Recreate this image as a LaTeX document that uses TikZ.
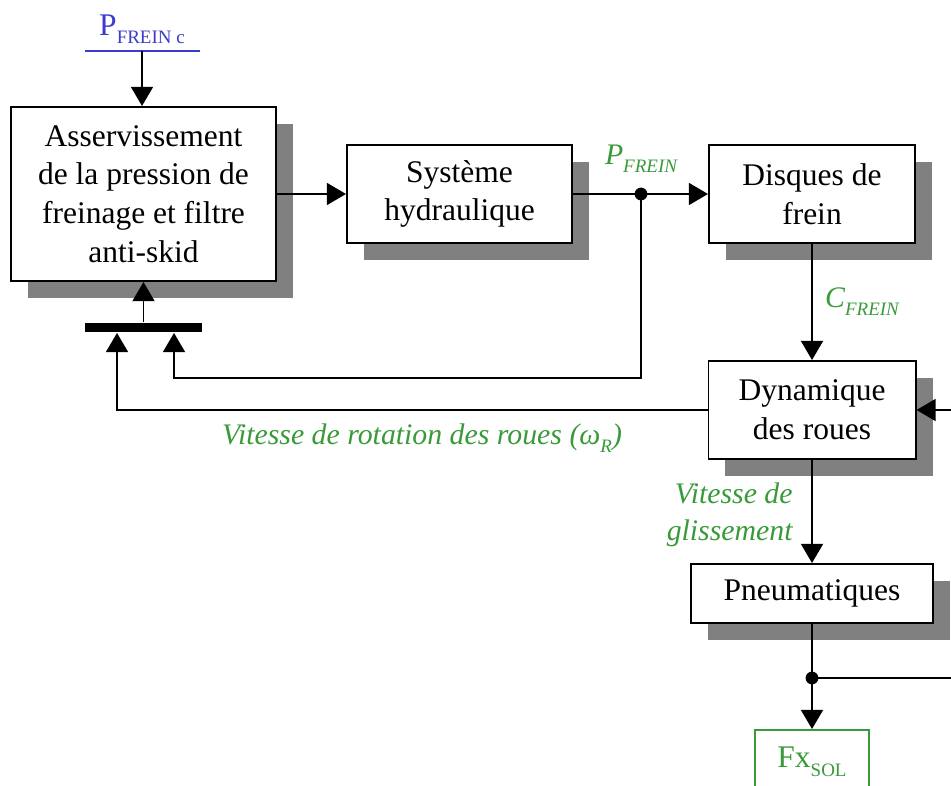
\documentclass[tikz,border=0pt]{standalone}
\usepackage{fontspec}
\setmainfont{Liberation Serif}
\usetikzlibrary{arrows.meta,shadows}
\definecolor{signal-green}{RGB}{58,154,58}
\definecolor{signal-blue}{RGB}{60,60,204}
\newcommand{\blockfont}{\fontsize{22.4}{27.6}\selectfont}
\newcommand{\labelfont}{\fontsize{21.2}{26}\selectfont}
\newcommand{\indice}[1]{\raisebox{-0.6ex}{\fontsize{13.5}{13.5}\selectfont #1}}
\tikzset{
    block-box/.style = {draw, fill=white, rectangle, inner sep=0pt, align=center, font=\blockfont,
        drop shadow={shadow xshift=0.425cm, shadow yshift=-0.425cm, fill=black!50, opacity=1}},
    output-box/.style = {draw=signal-green, fill=white, rectangle, inner sep=0pt, text=signal-green, font=\blockfont},
    signal-label/.style = {text=signal-green, font={\labelfont\itshape}, inner sep=1pt},
    arr/.style = {-{Triangle[length=0.48cm,width=0.55cm]}},
}

\begin{document}
\begin{tikzpicture}[x=0.025cm, y=-0.025cm, line width=1.4pt]
\useasboundingbox (0,0) rectangle (951,786);
\clip (0,0) rectangle (951,786);
% blocks
\node[block-box, minimum width=6.625cm, minimum height=4.35cm] (asserv) at (143.5,194) {Asservissement\\de la pression de\\freinage et filtre\\anti-skid};
\node[block-box, minimum width=5.625cm, minimum height=2.45cm] (hydro) at (459.5,194) {Système\\hydraulique};
\node[block-box, minimum width=5.15cm, minimum height=2.45cm] (disques) at (812,194) {Disques de\\frein};
\node[block-box, minimum width=5.175cm, minimum height=2.45cm] (dyn) at (812,410) {Dynamique\\des roues};
\node[block-box, minimum width=6.025cm, minimum height=1.475cm] (pneu) at (812,593.5) {Pneumatiques};
\node[output-box, minimum width=2.85cm, minimum height=1.6cm] (fxsol) at (812,762) {Fx\indice{SOL}};
\node[fill=black, minimum width=2.925cm, minimum height=0.225cm, inner sep=0pt] (bar) at (143.5,327.5) {};
% consigne
\node[text=signal-blue, font=\blockfont, minimum width=2.825cm, inner ysep=0.15cm, anchor=south] (pcons) at (142,51) {P\indice{FREIN c}};
\draw[signal-blue, line width=2pt] (pcons.south west) -- (pcons.south east);
\draw[arr] (pcons.south) -- (pcons.south |- asserv.north);
% labels
\node[signal-label] (pfrein-label) at (641,159) {P\indice{FREIN}};
\node[signal-label] (cfrein-label) at (862,302) {C\indice{FREIN}};
\node[signal-label] (omega-label) at (422,438) {Vitesse de rotation des roues (ω\indice{R})};
\node[signal-label, align=right, anchor=east] (gliss-label) at (795,515) {Vitesse de\\glissement};
% connectors
\coordinate (p-node) at (641,194);
\coordinate (in-right) at (174,378);
\coordinate (in-left) at (117,410);
\coordinate (w-ext) at (951,410);
\coordinate (f-node) at (812,678);
\coordinate (f-ext) at (951,678);
\draw[arr] (asserv.east) -- (hydro.west);
\draw[arr] (hydro.east) -- (disques.west);
\fill (p-node) circle (0.16cm);
\draw[arr] (p-node) |- (in-right) -- (in-right |- bar.south);
\draw[arr] (dyn.west) -| (in-left |- bar.south);
\draw[arr] (bar.north) -- (asserv.south);
\draw[arr] (disques.south) -- (dyn.north);
\draw[arr] (w-ext) -- (dyn.east);
\draw[arr] (dyn.south) -- (pneu.north);
\draw[arr] (pneu.south) -- (fxsol.north);
\draw (f-node) -- (f-ext);
\fill (f-node) circle (0.16cm);
\end{tikzpicture}
\end{document}
